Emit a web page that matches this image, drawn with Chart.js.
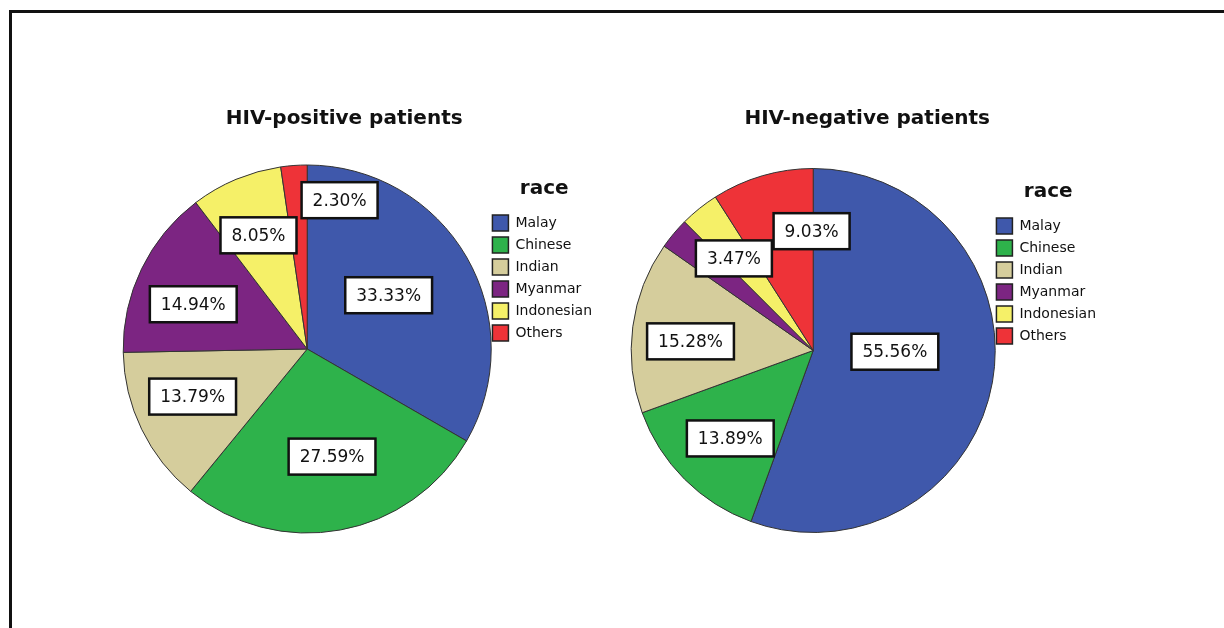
<!DOCTYPE html>
<html>
<head>
<meta charset="utf-8">
<script src="https://cdn.jsdelivr.net/npm/chart.js@4.4.0/dist/chart.umd.min.js"></script>
<style>
	html, body { margin: 0; padding: 0; background: #fff; }
	body { width: 1224px; height: 628px; position: relative; overflow: hidden; }
	.cadre { position: absolute; left: 9px; top: 10px; right: -10px; bottom: -10px; border-top: 3px solid #111; border-left: 3px solid #111; }
	.panneau { position: absolute; top: 0; width: 612px; height: 628px; }
</style>
</head>
<body>
<div class="cadre"></div>
<div class="panneau" style="left:0"><canvas id="graphique-positif" width="612" height="628"></canvas></div>
<div class="panneau" style="left:612px"><canvas id="graphique-negatif" width="612" height="628"></canvas></div>
<script>
// Données (pourcentages par origine)
const races = ["Malay", "Chinese", "Indian", "Myanmar", "Indonesian", "Others"];
const hivPositif = [33.33, 27.59, 13.79, 14.94, 8.05, 2.30];
const hivNegatif = [55.56, 13.89, 15.28, 2.78, 3.47, 9.03];
const couleurs = ["#3F58AB", "#2EB24B", "#D5CD9C", "#7C2582", "#F5F068", "#EE3338"];

// Placement des étiquettes : [fraction du rayon, décalage x, décalage y], null = pas d'étiquette
const placementPositif = [[0.53, -3, -5], [0.6, 5, -1], [0.68, -2, -7], [0.67, -3, 9], [0.67, -1, 0], [0.8, 43, -2]];
const placementNegatif = [[0.45, 1, -13], [0.66, 2, 3], [0.68, 0, 7], null, [0.67, -3, 3], [0.66, 32, -4]];

function pluginEtiquettes(placement) {
	return {
		id: "etiquettes",
		afterDatasetsDraw(chart) {
			const ctx = chart.ctx;
			const meta = chart.getDatasetMeta(0);
			const valeurs = chart.data.datasets[0].data;
			ctx.save();
			ctx.font = "17px 'DejaVu Sans'";
			ctx.textAlign = "center";
			ctx.textBaseline = "middle";
			meta.data.forEach((arc, i) => {
				const place = placement[i];
				if (!place) return;
				const p = arc.getProps(["x", "y", "startAngle", "endAngle", "outerRadius"], true);
				const milieu = (p.startAngle + p.endAngle) / 2;
				const cx = p.x + Math.cos(milieu) * p.outerRadius * place[0] + place[1];
				const cy = p.y + Math.sin(milieu) * p.outerRadius * place[0] + place[2];
				const texte = valeurs[i].toFixed(2) + "%";
				const w = ctx.measureText(texte).width + 22;
				const h = 36;
				ctx.fillStyle = "#fff";
				ctx.fillRect(cx - w / 2, cy - h / 2, w, h);
				ctx.lineWidth = 2.5;
				ctx.strokeStyle = "#111";
				ctx.strokeRect(cx - w / 2, cy - h / 2, w, h);
				ctx.fillStyle = "#111";
				ctx.fillText(texte, cx, cy + 1);
			});
			ctx.restore();
		}
	};
}

function pluginTitre(texte, dx, y) {
	return {
		id: "titrePanneau",
		afterDraw(chart) {
			const ctx = chart.ctx;
			const zone = chart.chartArea;
			ctx.save();
			ctx.font = "bold 20px 'DejaVu Sans'";
			ctx.fillStyle = "#111";
			ctx.textAlign = "center";
			ctx.textBaseline = "middle";
			ctx.fillText(texte, (zone.left + zone.right) / 2 + dx, y);
			ctx.restore();
		}
	};
}

function etiquettesLegende(chart) {
	const items = Chart.overrides.pie.plugins.legend.labels.generateLabels(chart);
	items.forEach(item => {
		item.lineWidth = 1.5;
		item.strokeStyle = "#222";
	});
	return items;
}

function creerCamembert(id, valeurs, placement, titre, dxTitre, rayon, padding) {
	return new Chart(document.getElementById(id), {
		type: "pie",
		data: {
			labels: races,
			datasets: [{
				data: valeurs,
				backgroundColor: couleurs,
				borderColor: "#333",
				borderWidth: 1
			}]
		},
		options: {
			responsive: false,
			animation: false,
			radius: rayon,
			layout: { padding: padding },
			plugins: {
				tooltip: { enabled: false },
				legend: {
					position: "right",
					align: "start",
					title: {
						display: true,
						text: "race",
						color: "#111",
						font: { family: "DejaVu Sans", size: 20, weight: "bold" },
						padding: { top: 14, bottom: 6 }
					},
					labels: {
						color: "#111",
						font: { family: "DejaVu Sans", size: 14 },
						boxWidth: 16,
						boxHeight: 16,
						padding: 6,
						generateLabels: etiquettesLegende
					}
				}
			}
		},
		plugins: [pluginEtiquettes(placement), pluginTitre(titre, dxTitre, 119)]
	});
}

creerCamembert("graphique-positif", hivPositif, placementPositif, "HIV-positive patients", 37, 184,
	{ left: 128, right: 10, top: 165, bottom: 95 });
creerCamembert("graphique-negatif", hivNegatif, placementNegatif, "HIV-negative patients", 54, 182,
	{ left: 24, right: 118, top: 168, bottom: 95 });
</script>
</body>
</html>
